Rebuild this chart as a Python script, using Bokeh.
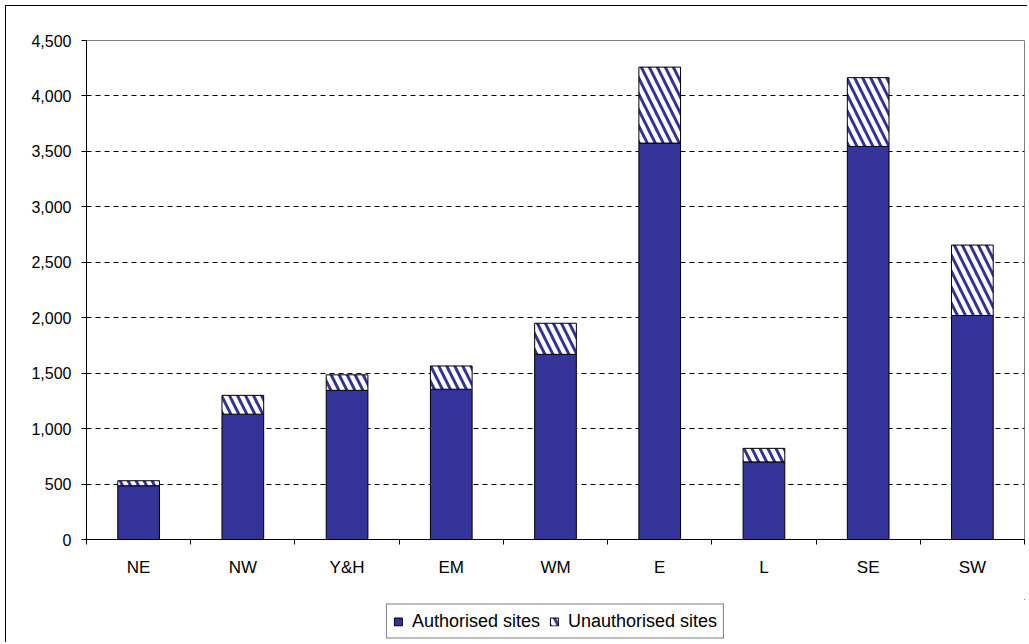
import numpy as np
from bokeh.plotting import figure
from bokeh.layouts import column
from bokeh.models import (FixedTicker, NumeralTickFormatter, Legend, LegendItem,
                          Range1d, ColumnDataSource)
from bokeh.embed import file_html
from bokeh.resources import INLINE

# ---- data ----
regions = ["NE", "NW", "Y&H", "EM", "WM", "E", "L", "SE", "SW"]
authorised = [485, 1130, 1345, 1355, 1670, 3575, 700, 3545, 2020]
unauthorised = [45, 170, 140, 210, 280, 685, 122, 620, 635]
y_ticks = [0, 500, 1000, 1500, 2000, 2500, 3000, 3500, 4000, 4500]
series_names = ["Authorised sites", "Unauthorised sites"]

n = len(regions)
x_centers = list(np.arange(n) + 0.5)
x_bounds = list(np.arange(n + 1).astype(float))
auth = np.array(authorised, dtype=float)
total = auth + np.array(unauthorised, dtype=float)

src = ColumnDataSource(dict(x=x_centers, auth=auth, total=total))

FONT = "Liberation Sans"
BLUE = "#333399"
W = 1022

auth_style = dict(fill_color=BLUE, line_color="black", line_width=1)
unauth_style = dict(fill_color="white", hatch_pattern="left_diagonal_line",
                    hatch_color=BLUE, hatch_scale=16, hatch_weight=3,
                    line_color="black", line_width=1)

# ---------------- main chart ----------------
p = figure(width=W, height=584, title=None,
           x_range=Range1d(0, n), y_range=Range1d(y_ticks[0], y_ticks[-1]),
           output_backend="svg", toolbar_location=None,
           min_border_left=80, min_border_top=34, min_border_right=4,
           min_border_bottom=51)

p.outline_line_color = "#808080"
p.outline_line_width = 1
p.background_fill_color = "white"
p.border_fill_color = "white"

p.vbar(x="x", width=0.4, bottom=0, top="auth", source=src, **auth_style)
p.vbar(x="x", width=0.4, bottom="auth", top="total", source=src, **unauth_style)

# grid
p.xgrid.visible = False
p.ygrid.ticker = FixedTicker(ticks=y_ticks[1:-1])
p.ygrid.grid_line_color = "black"
p.ygrid.grid_line_dash = "5 4"
p.ygrid.grid_line_width = 1

# y axis
p.yaxis.ticker = FixedTicker(ticks=y_ticks)
p.yaxis.formatter = NumeralTickFormatter(format="0,0")
p.yaxis.axis_line_color = "black"
p.yaxis.major_tick_line_color = "black"
p.yaxis.major_tick_out = 5
p.yaxis.major_tick_in = 0
p.yaxis.minor_tick_line_color = None
p.yaxis.major_label_standoff = 10
p.yaxis.major_label_text_font = FONT
p.yaxis.major_label_text_font_size = "16px"
p.yaxis.major_label_text_color = "black"

# x axis: labels at bar centres, ticks at category boundaries
p.xaxis.ticker = FixedTicker(ticks=x_centers, minor_ticks=x_bounds)
p.xaxis.major_label_overrides = {float(c): r for c, r in zip(x_centers, regions)}
p.xaxis.axis_line_color = "black"
p.xaxis.major_tick_out = 0
p.xaxis.major_tick_in = 0
p.xaxis.major_tick_line_color = None
p.xaxis.minor_tick_line_color = "black"
p.xaxis.minor_tick_out = 5
p.xaxis.minor_tick_in = 0
p.xaxis.major_label_standoff = 13
p.xaxis.major_label_text_font = FONT
p.xaxis.major_label_text_font_size = "17px"
p.xaxis.major_label_text_color = "black"

# ---------------- legend strip ----------------
# ranges chosen so the sample bars used as legend keys stay out of view
q = figure(width=W, height=53, title=None, x_axis_type=None, y_axis_type=None,
           x_range=Range1d(-3, -2), y_range=Range1d(-3, -2),
           output_backend="svg", toolbar_location=None,
           min_border_left=80, min_border_right=4, min_border_top=9,
           min_border_bottom=0)
q.outline_line_color = None
q.background_fill_color = "white"
q.border_fill_color = "white"
d1 = q.vbar(x=[x_centers[0]], top=[authorised[0]], width=0.4, **auth_style)
d2 = q.vbar(x=[x_centers[0]], top=[unauthorised[0]], width=0.4, **unauth_style)

legend = Legend(items=[LegendItem(label=series_names[0], renderers=[d1]),
                       LegendItem(label=series_names[1], renderers=[d2])],
                orientation="horizontal", location="center", margin=0,
                padding=6, spacing=9, label_standoff=9,
                glyph_width=10, glyph_height=10, label_height=18,
                label_text_font=FONT, label_text_font_size="18px",
                label_text_color="black",
                border_line_color="black", border_line_width=1,
                background_fill_color="white", background_fill_alpha=1)
q.add_layout(legend)

page = column(p, q, spacing=0)
page.styles = {"margin-left": "6px", "margin-top": "6px",
               "box-shadow": "-1px -1px 0 0 black"}

open("out.html", "w").write(file_html(page, INLINE))
